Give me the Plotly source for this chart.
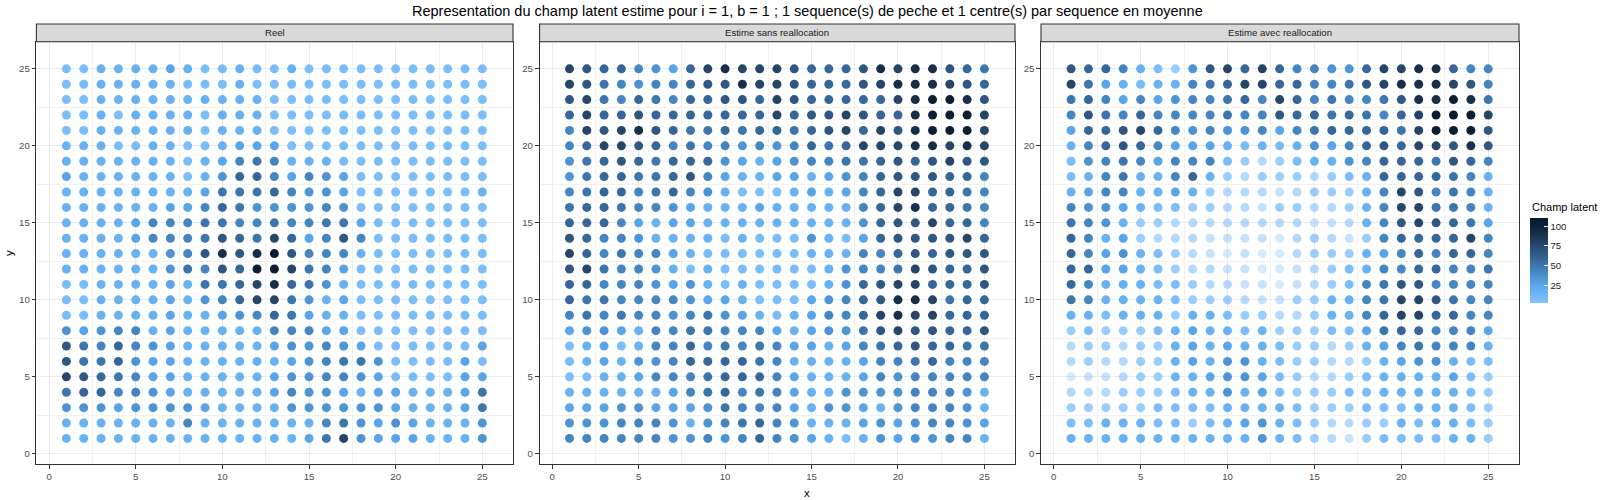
import plotly.graph_objects as go

# grid coordinates (data categories)
X_VALUES = [1, 2, 3, 4, 5, 6, 7, 8, 9, 10, 11, 12, 13, 14, 15, 16, 17, 18, 19, 20, 21, 22, 23, 24, 25]
Y_VALUES = [25, 24, 23, 22, 21, 20, 19, 18, 17, 16, 15, 14, 13, 12, 11, 10, 9, 8, 7, 6, 5, 4, 3, 2, 1]

PANEL_TITLES = ["Reel", "Estime sans reallocation", "Estime avec reallocation"]

# Champ latent, rows from y=25 (top) to y=1 (bottom), columns x=1..25
REEL = [
    [9,9,18,18,18,18,27,18,9,9,18,9,9,18,9,9,9,9,9,9,9,9,9,9,9],
    [9,9,18,18,18,18,18,9,9,9,18,9,9,9,9,9,9,9,9,9,9,9,9,9,9],
    [9,9,18,18,18,18,18,18,18,18,18,18,9,9,9,9,9,9,9,9,9,9,9,9,9],
    [9,9,18,9,18,18,18,18,9,18,18,18,9,9,9,9,9,9,9,9,9,9,9,9,9],
    [9,9,18,18,18,18,18,18,9,18,18,18,9,9,9,9,9,9,9,9,9,9,9,9,9],
    [18,18,18,9,9,18,18,9,9,18,27,27,27,9,9,9,9,9,9,9,9,9,9,9,9],
    [18,18,18,18,18,18,18,9,18,27,43,51,43,18,18,18,9,9,9,9,9,9,9,9,9],
    [27,18,18,18,18,18,18,9,18,36,59,59,43,27,43,36,27,9,9,9,9,9,9,9,9],
    [18,18,18,18,18,18,18,18,27,51,51,51,59,43,36,36,27,9,9,9,9,9,9,9,18],
    [18,18,18,18,18,18,27,27,43,59,51,36,36,36,36,43,36,9,9,9,9,9,9,9,9],
    [18,18,18,18,27,43,43,43,51,51,43,43,51,43,43,51,51,27,9,9,9,9,9,9,9],
    [18,18,18,18,27,43,43,43,51,68,59,51,78,59,27,43,68,43,9,9,9,9,9,9,9],
    [18,18,18,18,18,18,36,43,68,92,68,92,104,68,43,43,43,18,9,9,9,9,9,9,9],
    [18,18,18,18,18,18,36,51,43,68,59,104,104,78,51,43,27,9,9,9,9,9,9,9,9],
    [9,9,18,18,18,18,27,18,51,51,59,78,92,59,51,36,18,9,9,9,9,9,9,9,9],
    [9,9,18,18,18,18,27,18,36,43,59,78,78,51,36,18,27,9,9,9,9,9,9,9,9],
    [9,9,18,18,18,18,27,18,18,27,36,43,59,51,27,18,18,9,9,9,9,9,9,9,9],
    [36,27,36,43,43,18,27,18,18,18,18,18,43,43,43,27,27,9,9,9,9,9,9,9,9],
    [68,51,43,59,43,36,27,18,18,18,18,18,27,36,36,43,36,27,9,9,9,9,9,9,27],
    [68,51,51,59,36,27,27,18,18,18,18,18,18,27,36,43,51,51,36,9,9,9,9,27,9],
    [78,68,59,51,43,27,27,18,18,18,18,18,27,36,36,43,43,36,27,9,9,9,9,27,27],
    [51,59,59,43,43,36,27,18,18,18,18,18,27,43,36,36,27,18,27,27,18,18,18,27,51],
    [36,36,36,27,36,36,36,36,27,18,18,18,18,36,36,36,36,36,36,27,18,18,18,27,51],
    [18,18,18,18,18,18,18,43,18,18,18,18,18,18,18,43,51,36,27,36,27,18,18,18,36],
    [18,18,18,18,18,18,18,18,18,18,18,18,18,18,27,51,78,36,27,27,27,18,18,18,36],
]

SANS = [
    [78,68,59,59,43,36,27,59,78,92,78,78,78,68,59,59,59,68,92,78,92,92,68,59,51],
    [78,68,51,43,36,43,43,59,68,68,92,78,78,68,59,59,59,68,78,92,92,92,78,68,59],
    [68,78,51,43,59,51,43,59,59,68,68,59,78,68,59,59,59,59,59,78,92,104,104,92,68],
    [59,78,59,59,68,59,59,59,59,59,59,59,78,59,68,68,78,68,59,59,92,104,104,104,78],
    [43,78,68,78,92,68,59,51,51,59,51,59,59,51,59,68,78,59,78,68,92,104,104,104,78],
    [43,59,78,78,68,59,43,51,43,43,36,43,36,43,59,51,59,78,78,78,92,92,78,92,78],
    [36,51,59,68,59,51,59,59,59,36,27,18,27,36,43,43,51,51,59,68,59,68,78,68,68],
    [36,51,59,59,51,51,59,68,43,27,18,18,27,27,18,27,36,43,59,68,68,68,59,59,43],
    [43,51,59,59,43,51,59,43,36,18,9,9,9,18,27,18,27,43,59,78,78,59,59,51,43],
    [51,59,59,51,43,43,36,27,18,18,18,27,18,18,18,18,18,43,59,78,92,59,59,51,43],
    [59,59,59,43,27,18,27,27,18,18,18,18,18,18,18,18,18,36,59,68,68,78,59,59,43],
    [68,59,43,43,36,18,18,18,18,9,18,9,9,9,36,18,9,27,59,68,68,68,68,78,59],
    [78,59,43,51,43,43,27,18,9,9,9,9,9,9,18,18,18,43,43,59,68,59,68,68,68],
    [68,78,51,43,43,36,18,9,18,9,9,9,9,9,9,18,36,43,43,51,78,68,59,59,68],
    [59,59,43,43,43,36,27,36,18,9,18,9,9,9,9,18,36,59,68,78,78,59,59,59,68],
    [59,51,51,43,43,43,43,36,27,27,18,9,9,9,27,36,43,59,68,92,92,78,51,59,59],
    [43,51,43,51,43,43,36,43,51,36,27,18,9,18,27,43,43,59,78,92,78,78,59,59,59],
    [27,36,36,27,18,43,43,51,51,43,43,43,27,18,27,36,36,51,68,78,68,68,59,59,68],
    [9,18,27,9,18,43,43,59,43,51,43,51,43,27,27,18,27,43,51,59,68,59,59,51,51],
    [9,18,27,18,36,36,43,59,59,59,59,51,43,18,18,18,18,27,43,43,51,59,43,43,43],
    [9,9,18,18,27,43,43,43,51,59,59,59,43,27,18,18,18,27,43,36,43,43,43,43,43],
    [18,18,18,18,18,18,27,43,51,59,43,51,43,27,18,18,36,36,36,36,43,43,43,36,18],
    [27,27,27,36,36,27,27,27,36,51,43,43,43,27,18,36,36,27,18,36,43,43,43,36,18],
    [36,36,36,43,43,43,36,18,36,43,51,59,43,36,18,18,18,27,36,27,36,43,43,36,27],
    [43,43,43,43,43,43,36,36,43,36,43,59,43,36,27,18,9,18,36,27,36,36,43,43,18],
]

AVEC = [
    [68,59,59,43,18,9,5,36,68,78,59,78,59,43,43,36,36,59,78,78,92,92,59,43,43],
    [78,51,27,18,9,18,18,43,51,59,78,78,59,59,43,43,51,68,78,92,92,92,78,68,43],
    [51,59,43,27,43,27,36,43,43,51,59,43,78,59,43,51,43,43,51,68,92,92,104,92,51],
    [43,68,51,43,59,43,43,43,43,51,43,43,68,59,59,51,59,51,43,59,78,104,104,104,78],
    [27,59,59,68,78,59,43,36,43,36,36,43,27,43,51,59,59,59,59,51,78,104,104,104,68],
    [18,43,59,68,59,43,27,27,27,18,9,18,9,18,36,27,43,59,68,59,78,78,68,92,68],
    [9,36,43,51,43,27,43,43,43,9,5,5,5,9,18,18,36,43,59,59,59,51,68,59,43],
    [9,18,43,51,18,18,43,59,18,5,5,5,5,5,5,5,9,18,59,59,59,59,51,43,18],
    [18,27,43,43,18,18,27,18,5,5,5,5,5,5,5,5,5,18,43,78,68,43,51,43,18],
    [43,36,36,27,18,9,9,5,5,5,5,5,5,5,5,5,5,18,43,78,78,51,51,43,18],
    [51,43,36,18,5,5,5,5,5,5,5,5,5,5,5,5,5,18,43,68,78,68,59,51,27],
    [59,43,18,27,5,5,5,5,5,5,5,5,5,5,5,5,5,5,43,59,59,59,59,78,43],
    [59,43,27,36,18,9,5,5,5,5,5,5,5,5,5,5,5,18,27,43,59,43,59,59,43],
    [59,59,27,27,18,9,5,5,5,5,5,5,5,5,5,5,9,18,43,43,59,59,43,43,51],
    [59,43,18,18,18,9,9,5,5,5,5,5,5,5,5,5,9,43,51,68,68,43,43,43,43],
    [51,43,18,18,18,18,9,5,5,5,5,5,5,5,5,18,18,43,51,78,78,68,51,43,43],
    [18,18,9,18,18,18,5,18,18,9,5,5,5,5,5,18,18,43,59,78,78,59,59,43,43],
    [5,9,5,5,5,9,18,27,18,18,9,18,5,5,5,9,9,27,51,59,59,43,43,43,27],
    [5,5,5,5,5,5,18,27,18,27,18,18,9,5,5,5,5,18,27,43,51,43,43,43,18],
    [5,5,5,5,5,5,18,27,18,36,36,18,9,5,5,5,5,5,18,27,36,36,18,9,9],
    [5,5,5,5,5,5,18,18,27,36,36,27,9,5,5,5,5,9,18,18,18,18,27,9,5],
    [5,5,5,5,5,5,9,18,18,36,18,27,9,5,5,5,9,9,18,18,18,18,18,9,5],
    [5,5,5,5,5,9,9,9,9,18,18,18,18,9,5,5,5,9,9,9,18,18,18,9,5],
    [9,9,18,18,18,9,9,5,9,18,27,36,18,9,5,5,5,5,5,18,9,18,18,9,5],
    [18,18,18,18,18,18,18,18,18,18,18,36,18,9,5,5,5,5,9,9,9,9,18,18,5],
]

# point opacity (percent) for the third panel, same layout as AVEC
AVEC_ALPHA = [
    [100,100,100,100,100,100,82,100,100,100,100,100,100,100,100,100,100,100,100,100,100,100,100,100,100],
    [100,100,100,100,100,100,100,100,100,100,100,100,100,100,100,100,100,100,100,100,100,100,100,100,100],
    [100,100,100,100,100,100,100,100,100,100,100,100,100,100,100,100,100,100,100,100,100,100,100,100,100],
    [100,100,100,100,100,100,100,100,100,100,100,100,100,100,100,100,100,100,100,100,100,100,100,100,100],
    [100,100,100,100,100,100,100,100,100,100,100,100,100,100,100,100,100,100,100,100,100,100,100,100,100],
    [100,100,100,100,100,100,100,100,100,100,100,100,100,100,100,100,100,100,100,100,100,100,100,100,100],
    [100,100,100,100,100,100,100,100,100,100,82,61,82,100,100,100,100,100,100,100,100,100,100,100,100],
    [100,100,100,100,100,100,100,100,100,82,61,82,82,82,61,82,100,100,100,100,100,100,100,100,100],
    [100,100,100,100,100,100,100,100,82,61,61,61,47,61,82,82,82,100,100,100,100,100,100,100,100],
    [100,100,100,100,100,100,100,82,82,61,61,47,82,82,61,61,82,100,100,100,100,100,100,100,100],
    [100,100,100,100,82,82,61,61,61,61,61,61,61,61,47,47,61,100,100,100,100,100,100,100,100],
    [100,100,100,100,82,61,61,61,47,47,47,47,34,61,82,61,47,82,100,100,100,100,100,100,100],
    [100,100,100,100,100,100,82,61,47,34,47,34,34,61,82,82,82,100,100,100,100,100,100,100,100],
    [100,100,100,100,100,100,82,61,61,47,47,34,34,47,61,82,100,100,100,100,100,100,100,100,100],
    [100,100,100,100,100,100,100,82,61,61,47,47,34,47,61,82,100,100,100,100,100,100,100,100,100],
    [100,100,100,100,100,100,100,82,82,82,61,47,47,82,82,100,100,100,100,100,100,100,100,100,100],
    [100,100,100,100,100,100,82,100,100,100,82,82,61,61,82,100,100,100,100,100,100,100,100,100,100],
    [82,100,82,82,82,100,100,100,100,100,100,100,82,82,82,100,100,100,100,100,100,100,100,100,100],
    [61,82,82,61,82,82,100,100,100,100,100,100,100,82,82,61,82,100,100,100,100,100,100,100,100],
    [61,82,61,61,82,82,100,100,100,100,100,100,100,82,82,61,61,82,100,100,100,100,100,100,100],
    [34,47,47,61,82,82,100,100,100,100,100,100,100,82,61,61,82,100,100,100,100,100,100,100,82],
    [61,61,61,82,82,82,100,100,100,100,100,100,100,82,82,82,100,100,100,100,100,100,100,100,82],
    [82,82,82,82,82,100,100,100,100,100,100,100,100,100,82,82,82,100,100,100,100,100,100,100,82],
    [100,100,100,100,100,100,100,82,100,100,100,100,100,100,82,61,61,82,82,100,100,100,100,100,82],
    [100,100,100,100,100,100,100,100,100,100,100,100,100,100,82,61,47,82,100,100,100,100,100,100,82],
]

COLORBAR_TICKS = [25, 50, 75, 100]
CMIN, CMAX = 3.6, 110.9

W, H = 1600, 500
FONT = "Liberation Sans, Arial, sans-serif"

# panel boxes in pixels (left, right), shared top / bottom
PANELS_PX = [(36.4, 513.0), (539.6, 1015.0), (1041.0, 1519.0)]
TOP_PX, BOT_PX = 41.7, 464.0
STRIP_TOP_PX = 24.0


def px_x(p):
    return p / W


def px_y(p):
    return 1 - p / H


def flatten(values, alpha=None):
    xs, ys, cs, ops = [], [], [], []
    for r, yv in enumerate(Y_VALUES):
        for c, xv in enumerate(X_VALUES):
            xs.append(xv)
            ys.append(yv)
            cs.append(values[r][c])
            ops.append(1.0 if alpha is None else alpha[r][c] / 100.0)
    return xs, ys, cs, ops


colorscale = [
    [0.0, "#85c4fb"],
    [(25 - CMIN) / (CMAX - CMIN), "#5ba9ee"],
    [(50 - CMIN) / (CMAX - CMIN), "#3d78b0"],
    [(75 - CMIN) / (CMAX - CMIN), "#284a70"],
    [(100 - CMIN) / (CMAX - CMIN), "#0f2238"],
    [1.0, "#08172a"],
]

fig = go.Figure()
datasets = [(REEL, None), (SANS, None), (AVEC, AVEC_ALPHA)]
for i, (vals, alp) in enumerate(datasets):
    xs, ys, cs, ops = flatten(vals, alp)
    suffix = "" if i == 0 else str(i + 1)
    fig.add_trace(go.Scatter(
        x=xs, y=ys, mode="markers",
        xaxis="x" + suffix, yaxis="y" + suffix,
        marker=dict(size=9, color=cs, coloraxis="coloraxis", opacity=ops, line=dict(width=0)),
        showlegend=False, hoverinfo="skip",
    ))

axis_common = dict(
    range=[-0.73, 26.77], tick0=0, dtick=5, ticks="outside", ticklen=3.7, tickwidth=1,
    tickcolor="#333333", tickfont=dict(size=9.6, color="#4d4d4d", family=FONT),
    showline=True, mirror=True, linecolor="#333333", linewidth=1.1,
    showgrid=True, gridcolor="#ebebeb", gridwidth=1.1, zeroline=False,
    minor=dict(tick0=0, dtick=2.5, showgrid=True, gridcolor="#f1f1f1", gridwidth=0.6, ticks=""),
)
yaxis_common = dict(axis_common)
yaxis_common["range"] = [-0.66, 26.76]

layout = dict(
    width=W, height=H, margin=dict(l=0, r=0, t=0, b=0),
    paper_bgcolor="white", plot_bgcolor="white",
    font=dict(family=FONT, color="#000000"),
    coloraxis=dict(
        cmin=CMIN, cmax=CMAX, colorscale=colorscale,
        colorbar=dict(
            x=1530 / W, xanchor="left", y=px_y(260.0), yanchor="middle",
            len=85.4, lenmode="pixels", thickness=17.6, thicknessmode="pixels",
            xpad=0, ypad=0, outlinewidth=0,
            tickvals=COLORBAR_TICKS, ticks="inside", ticklen=4, tickcolor="white",
            tickfont=dict(size=9.6, color="#1a1a1a", family=FONT),
        ),
    ),
)
shapes = []
annotations = []
for i, (l, r) in enumerate(PANELS_PX):
    suffix = "" if i == 0 else str(i + 1)
    xa = dict(axis_common)
    xa["domain"] = [px_x(l), px_x(r)]
    xa["anchor"] = "y" + suffix
    ya = dict(yaxis_common)
    ya["domain"] = [px_y(BOT_PX), px_y(TOP_PX)]
    ya["anchor"] = "x" + suffix
    layout["xaxis" + suffix] = xa
    layout["yaxis" + suffix] = ya
    shapes.append(dict(type="rect", xref="paper", yref="paper",
                       x0=px_x(l), x1=px_x(r), y0=px_y(TOP_PX), y1=px_y(STRIP_TOP_PX),
                       fillcolor="#d9d9d9", line=dict(color="#333333", width=1.1)))
    annotations.append(dict(text=PANEL_TITLES[i], xref="paper", yref="paper",
                            x=px_x((l + r) / 2), y=px_y((TOP_PX + STRIP_TOP_PX) / 2),
                            showarrow=False, xanchor="center", yanchor="middle",
                            font=dict(size=9.6, color="#1a1a1a", family=FONT)))

annotations.append(dict(
    text="Representation du champ latent estime pour i = 1, b = 1 ; 1 sequence(s) de peche et 1 centre(s) par sequence en moyenne",
    xref="paper", yref="paper", x=px_x(807), y=px_y(11), showarrow=False,
    xanchor="center", yanchor="middle", font=dict(size=14.5, color="#000000", family=FONT)))
annotations.append(dict(text="x", xref="paper", yref="paper", x=px_x(807), y=px_y(493),
                        showarrow=False, xanchor="center", yanchor="middle",
                        font=dict(size=11.5, color="#000000", family=FONT)))
annotations.append(dict(text="y", xref="paper", yref="paper", x=px_x(9), y=px_y(253),
                        showarrow=False, xanchor="center", yanchor="middle", textangle=-90,
                        font=dict(size=11.5, color="#000000", family=FONT)))
annotations.append(dict(text="Champ latent", xref="paper", yref="paper", x=px_x(1530), y=px_y(206.7),
                        showarrow=False, xanchor="left", yanchor="middle",
                        font=dict(size=11, color="#000000", family=FONT)))

layout["shapes"] = shapes
layout["annotations"] = annotations
fig.update_layout(**layout)

fig.write_html(
    "out.html",
    config={"displayModeBar": False},
    post_script="document.body.style.margin='0';document.body.style.overflow='hidden';",
)
